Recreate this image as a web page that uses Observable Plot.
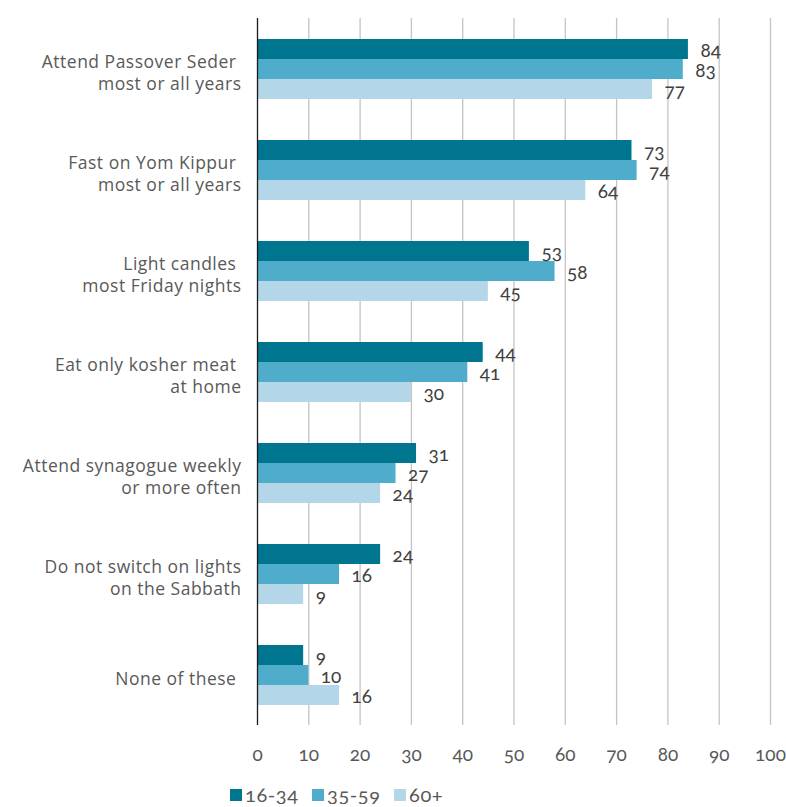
<!DOCTYPE html>
<html>
<head>
<meta charset="utf-8">
<script src="https://cdn.jsdelivr.net/npm/d3@7"></script>
<script src="https://cdn.jsdelivr.net/npm/@observablehq/plot@0.6"></script>
<style>
  body { margin: 0; background: #fff; font-family: Lato, "Open Sans", sans-serif; }
  #chart svg { display: block; font-variant-numeric: oldstyle-nums; font-feature-settings: "onum" 1; }
  #legend { display: flex; align-items: center; padding-left: 230px; margin-top: 10px; height: 19px; }
  #legend .item { display: flex; align-items: center; width: 82px; }
  #legend .sw { display: inline-block; width: 12px; height: 12px; margin-right: 3px; }
  #legend .lbl { font-family: Lato, sans-serif; font-size: 20px; line-height: 19px; color: #595959; font-feature-settings: "onum" 1; font-variant-numeric: oldstyle-nums; letter-spacing: 0.6px; }
</style>
</head>
<body>
<div id="chart"></div>
<div id="legend"></div>
<script>
const categories = [
  "Attend Passover Seder\u00a0\nmost or all years",
  "Fast on Yom Kippur\u00a0\nmost or all years",
  "Light candles\u00a0\nmost Friday nights",
  "Eat only kosher meat\u00a0\nat home",
  "Attend synagogue weekly\nor more often",
  "Do not switch on lights\non the Sabbath",
  "None of these\u00a0"
];
const series = ["16-34", "35-59", "60+"];
const values1634 = [84, 73, 53, 44, 31, 24, 9];
const values3559 = [83, 74, 58, 41, 27, 16, 10];
const values60 = [77, 64, 45, 30, 24, 9, 16];
const colors = ["#007590", "#4FADCB", "#B3D6E8"];
const xTicks = [0, 10, 20, 30, 40, 50, 60, 70, 80, 90, 100];

const seriesValues = [values1634, values3559, values60];
const data = [];
categories.forEach((c, i) => {
  series.forEach((s, j) => data.push({category: c, series: s, value: seriesValues[j][i]}));
});

const chart = Plot.plot({
  width: 786,
  height: 775,
  marginLeft: 257,
  marginRight: 16,
  marginTop: 17,
  marginBottom: 50,
  style: {fontFamily: "Lato, 'Open Sans', sans-serif", background: "#fff"},
  x: {domain: [0, 100], ticks: xTicks},
  y: {domain: series, paddingInner: 0, paddingOuter: 0.93, axis: null},
  fy: {domain: categories, padding: 0, axis: null},
  color: {domain: series, range: colors},
  marks: [
    Plot.ruleX(xTicks.filter(d => d > 0), {stroke: "#C4C4C4", strokeWidth: 1.3, strokeOpacity: 1}),
    Plot.barX(data, {fy: "category", y: "series", x: "value", fill: "series"}),
    Plot.ruleX([0], {stroke: "#1a1a1a", strokeWidth: 1.3}),
    Plot.text(data, {fy: "category", y: "series", x: "value", text: d => String(d.value), dx: 12, dy: 1, textAnchor: "start", fontSize: 19, fill: "#404040"}),
    Plot.text(categories, {fy: d => d, text: d => d, frameAnchor: "left", textAnchor: "end", dx: -16, dy: 3, lineHeight: 1.27, fontSize: 17.5, fill: "#595959", fontFamily: "'Open Sans', sans-serif"}),
    Plot.axisX({anchor: "bottom", ticks: xTicks, tickSize: 0, tickPadding: 22, fontSize: 19, fill: "#595959", tickFormat: d => String(d), label: null})
  ]
});
chart.querySelectorAll("text").forEach(t => {
  if (/[a-z]/i.test(t.textContent)) t.style.letterSpacing = "0.5px";
});
document.getElementById("chart").appendChild(chart);

const legend = document.getElementById("legend");
series.forEach((s, i) => {
  const item = document.createElement("div");
  item.className = "item";
  const sw = document.createElement("span");
  sw.className = "sw";
  sw.style.background = colors[i];
  const lbl = document.createElement("span");
  lbl.className = "lbl";
  lbl.textContent = s;
  item.appendChild(sw);
  item.appendChild(lbl);
  legend.appendChild(item);
});
</script>
</body>
</html>
